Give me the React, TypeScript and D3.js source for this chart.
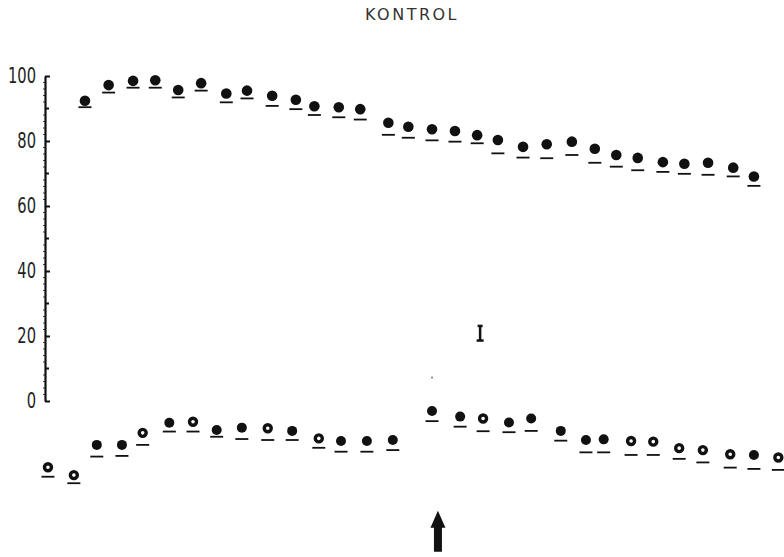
import React, { useEffect, useRef } from "react";
import * as d3 from "d3";

// time points (arbitrary units) for the upper series
const upperT = [5.4, 8.6, 11.9, 14.9, 18.0, 21.1, 24.5, 27.3, 30.7, 33.9, 36.4, 39.7, 42.6, 46.4, 49.1, 52.3, 55.4, 58.4, 61.2, 64.6, 67.8, 71.2, 74.3, 77.2, 80.1, 83.5, 86.4, 89.6, 93.0, 95.8];
const upperDot = [92.4, 97.2, 98.5, 98.7, 95.7, 97.8, 94.6, 95.5, 93.9, 92.7, 90.7, 90.4, 89.8, 85.6, 84.4, 83.6, 83.1, 81.8, 80.3, 78.2, 79.0, 79.8, 77.6, 75.7, 74.8, 73.5, 73.0, 73.3, 71.8, 69.1];
const upperDash = [90.4, 94.9, 96.4, 96.4, 93.4, 95.5, 91.9, 93.1, 90.8, 89.8, 88.0, 87.3, 86.6, 81.9, 81.0, 80.2, 79.8, 79.3, 76.2, 74.9, 74.7, 75.7, 73.3, 72.1, 71.0, 70.5, 69.9, 69.6, 69.1, 66.2];

// lower series
const lowerT = [0.4, 3.9, 7.0, 10.4, 13.2, 16.8, 20.0, 23.2, 26.6, 30.1, 33.4, 37.0, 40.0, 43.5, 47.0, 52.3, 56.1, 59.2, 62.7, 65.7, 69.7, 73.1, 75.5, 79.2, 82.2, 85.7, 88.9, 92.6, 95.8, 99.1];
const lowerDot = [-20.4, -22.8, -13.5, -13.5, -9.8, -6.7, -6.4, -8.9, -8.2, -8.4, -9.2, -11.5, -12.3, -12.3, -12.0, -3.1, -4.8, -5.4, -6.6, -5.4, -9.2, -12.0, -11.8, -12.3, -12.5, -14.5, -15.1, -16.4, -16.6, -17.4];
const lowerDash = [-23.3, -25.3, -17.1, -16.9, -13.5, -9.4, -9.4, -11.0, -11.7, -12.0, -12.0, -14.4, -15.6, -15.6, -15.1, -6.2, -7.9, -9.3, -9.6, -9.2, -12.2, -15.8, -15.8, -16.6, -16.6, -17.8, -18.9, -20.5, -20.9, -21.2];
const lowerOpen = [1, 1, 0, 0, 1, 0, 1, 0, 0, 1, 0, 1, 0, 0, 0, 0, 0, 1, 0, 0, 0, 0, 0, 1, 1, 1, 1, 1, 0, 1];

const yTicks = [0, 20, 40, 60, 80, 100];
const sdBar = { t: 58.8, lo: 18.6, hi: 23.1 };
const speck = { t: 52.3, v: 7.2 };
const arrowAt = { t: 53.1, tip: -33.8, base: -46.4 };

const App = () => {
  const chartRef = useRef<HTMLDivElement>(null);

  useEffect(() => {
    d3.select(chartRef.current).selectAll("*").remove();
    const width = 784;
    const height = 557;
    const ink = "#111";
    const squeeze = 0.7; // tick labels are a narrow face

    const svg = d3
      .select(chartRef.current)
      .append("svg")
      .attr("width", width)
      .attr("height", height)
      .style("position", "absolute")
      .style("left", 0)
      .style("top", 0)
      .style("background", "#fff");

    const x = d3.scaleLinear().domain([0, 100]).range([45, 785]);
    const y = d3.scaleLinear().domain([0, 100]).range([401, 76]);

    svg
      .append("text")
      .attr("x", 412)
      .attr("y", 20)
      .attr("text-anchor", "middle")
      .attr("font-family", "DejaVu Sans, sans-serif")
      .attr("font-size", 16)
      .attr("letter-spacing", 2.5)
      .attr("fill", "#333")
      .text("KONTROL");

    // y axis
    const axis = svg
      .append("g")
      .attr("transform", "translate(45,0)")
      .call(
        d3
          .axisLeft(y)
          .tickValues(yTicks)
          .tickSizeInner(-5)
          .tickSizeOuter(0)
          .tickPadding(9 / squeeze)
          .tickFormat(d3.format("d"))
      );
    axis.select(".domain").attr("stroke", ink).attr("stroke-width", 2.2);
    axis.selectAll(".tick line").attr("stroke", ink).attr("stroke-width", 2);
    axis
      .selectAll(".tick text")
      .attr("fill", "#222")
      .attr("font-size", 21)
      .attr("font-family", "DejaVu Sans, sans-serif")
      .attr("transform", `scale(${squeeze},1)`);

    // minor ticks
    const minor = d3.range(0, 101, 2).filter((v) => v % 20 !== 0);
    svg
      .append("g")
      .selectAll("line")
      .data(minor)
      .enter()
      .append("line")
      .attr("x1", (d) => (d % 10 === 0 ? 45 : 43))
      .attr("x2", (d) => (d % 10 === 0 ? 49 : 45))
      .attr("y1", (d) => y(d))
      .attr("y2", (d) => y(d))
      .attr("stroke", ink)
      .attr("stroke-width", (d) => (d % 10 === 0 ? 2 : 0.8));

    const upper = upperT.map((t, i) => ({ t, v: upperDot[i], d: upperDash[i] }));
    const lower = lowerT.map((t, i) => ({ t, v: lowerDot[i], d: lowerDash[i], open: lowerOpen[i] }));

    // dashes
    const dashes = [...upper, ...lower];
    svg
      .append("g")
      .selectAll("line")
      .data(dashes)
      .enter()
      .append("line")
      .attr("x1", (d) => x(d.t) - 6.5)
      .attr("x2", (d) => x(d.t) + 6.5)
      .attr("y1", (d) => y(d.d))
      .attr("y2", (d) => y(d.d))
      .attr("stroke", ink)
      .attr("stroke-width", 1.8);

    svg
      .append("g")
      .selectAll("circle")
      .data(upper)
      .enter()
      .append("circle")
      .attr("cx", (d) => x(d.t))
      .attr("cy", (d) => y(d.v))
      .attr("r", 5.3)
      .attr("fill", ink);

    svg
      .append("g")
      .selectAll("circle")
      .data(lower)
      .enter()
      .append("circle")
      .attr("cx", (d) => x(d.t))
      .attr("cy", (d) => y(d.v))
      .attr("r", (d) => (d.open ? 3.5 : 5))
      .attr("fill", (d) => (d.open ? "#fff" : ink))
      .attr("stroke", ink)
      .attr("stroke-width", (d) => (d.open ? 3.4 : 0));

    // SD marker
    const sx = x(sdBar.t);
    const sd = svg.append("g").attr("stroke", ink).attr("stroke-width", 2.5);
    sd.append("line").attr("x1", sx).attr("x2", sx).attr("y1", y(sdBar.hi)).attr("y2", y(sdBar.lo));
    sd.append("line").attr("x1", sx - 2.5).attr("x2", sx + 2.5).attr("y1", y(sdBar.hi)).attr("y2", y(sdBar.hi));
    sd.append("line").attr("x1", sx - 3.5).attr("x2", sx + 3.5).attr("y1", y(sdBar.lo)).attr("y2", y(sdBar.lo));

    // small speck above the arrow position
    svg
      .append("circle")
      .attr("cx", x(speck.t))
      .attr("cy", y(speck.v))
      .attr("r", 1)
      .attr("fill", "#777");

    // arrow
    const ax = x(arrowAt.t);
    const tip = y(arrowAt.tip);
    const base = y(arrowAt.base);
    const head = tip + 17;
    const arrow = d3.path();
    arrow.moveTo(ax, tip);
    arrow.lineTo(ax + 7.5, head);
    arrow.lineTo(ax + 4, head);
    arrow.lineTo(ax + 4, base);
    arrow.lineTo(ax - 4, base);
    arrow.lineTo(ax - 4, head);
    arrow.lineTo(ax - 7.5, head);
    arrow.closePath();
    svg.append("path").attr("d", arrow.toString()).attr("fill", ink);
  }, []);

  return <div ref={chartRef}></div>;
};

export default App;
